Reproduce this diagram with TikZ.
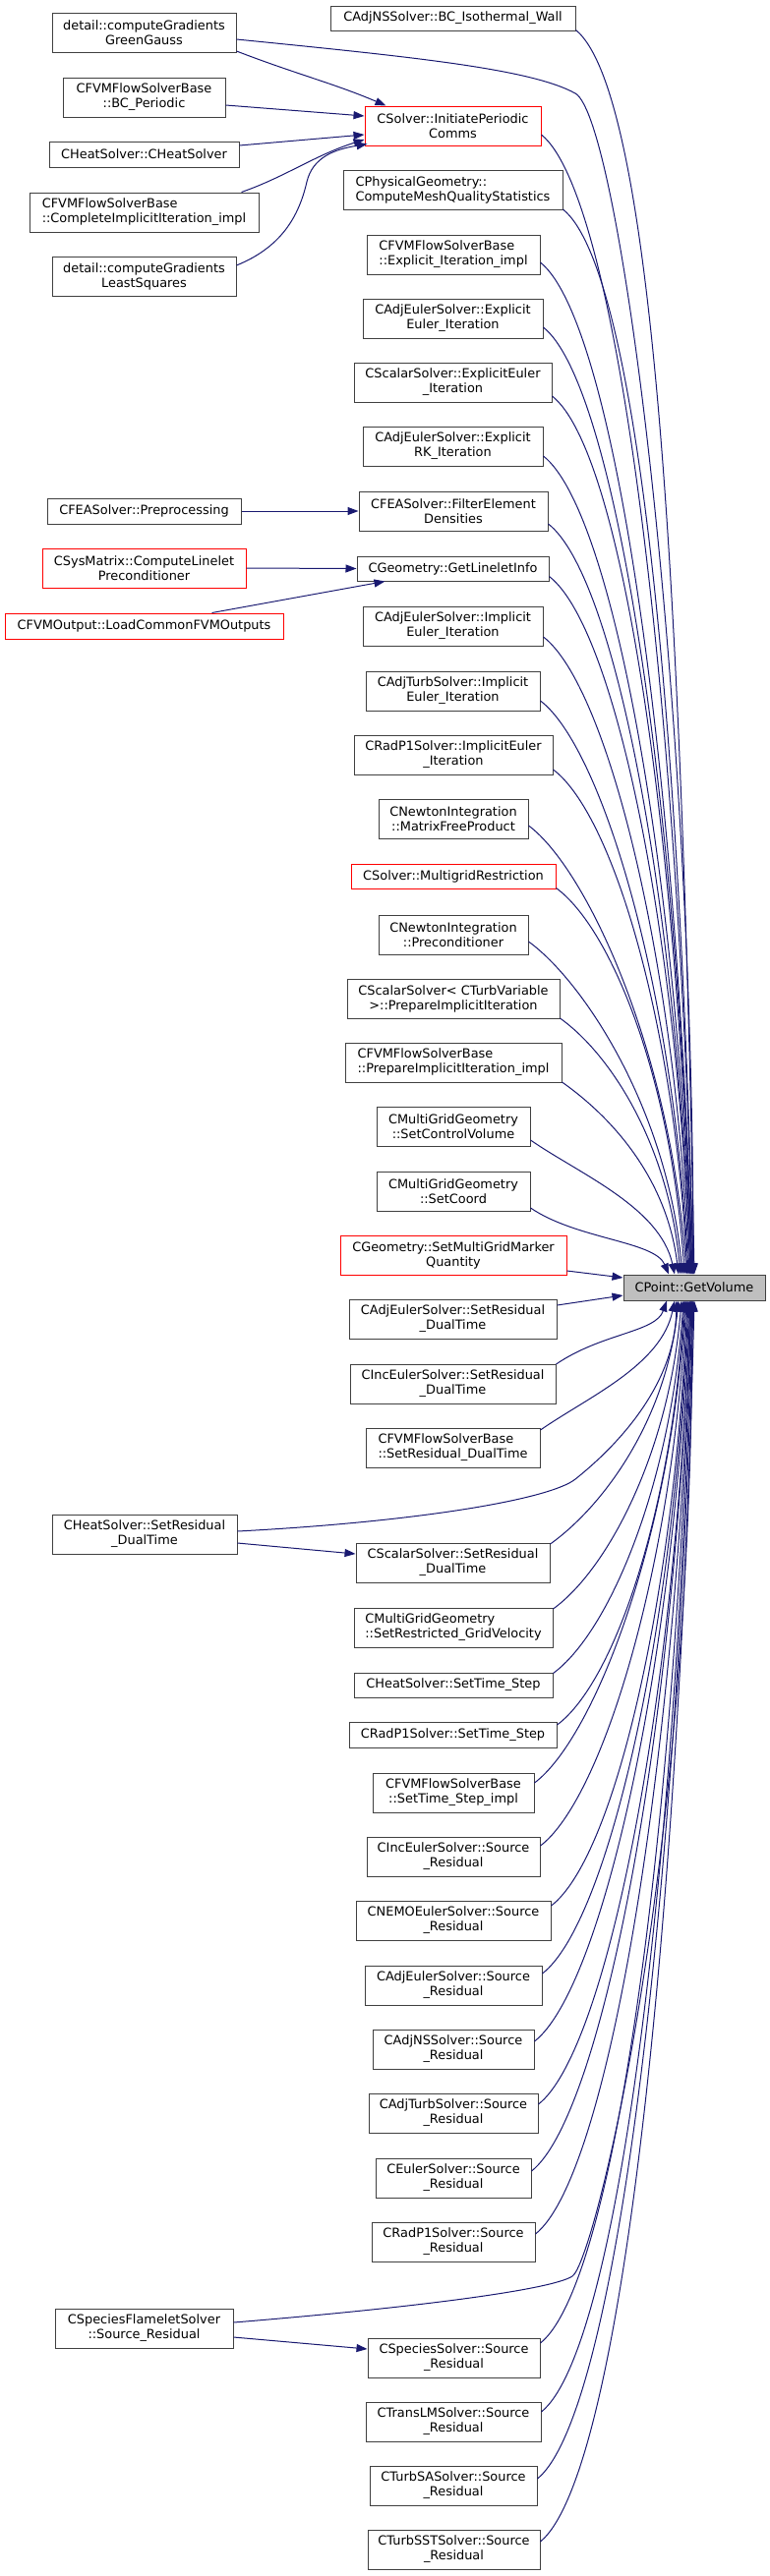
\documentclass[tikz,border=0pt]{standalone}
\usepackage{fontspec}
\setmainfont{DejaVu Sans}
\usetikzlibrary{arrows.meta,calc}
\definecolor{edgec}{HTML}{191970}
\definecolor{bord}{HTML}{404040}
\definecolor{cpfill}{HTML}{BFBFBF}
\tikzset{
  fn/.style={draw=bord, line width=1pt, fill=white, inner sep=0pt,
    minimum height=40pt, align=center, font=\fontsize{12.9}{15}\selectfont},
  fnl/.style={fn, align=left},
  one/.style={minimum height=26pt},
  redb/.style={draw=red},
  edge/.style={draw=edgec, line width=1pt, -{Triangle[length=11pt,width=8pt]}},
}
\newcommand\upedge[3]{%
  \draw[edge] let \p1=($(#1.east)+(0,#2)$), \p2=($(cp.north)+(#3,0)$) in
  (\p1) .. controls ({\x1+45pt+0.03*(\y1-\y2)},{\y1-30pt-0.03*(\y1-\y2)})
  and ({\x2-0.1*(\x2-\x1)},{0.5*(\y1+\y2)}) .. (\p2);}
\newcommand\downedge[3]{%
  \draw[edge] let \p1=($(#1.east)+(0,-#2)$), \p2=($(cp.south)+(#3,0)$) in
  (\p1) .. controls ({\x1+45pt+0.03*(\y2-\y1)},{\y1+30pt+0.03*(\y2-\y1)})
  and ({\x2-0.1*(\x2-\x1)},{0.5*(\y1+\y2)}) .. (\p2);}
\begin{document}
\begin{tikzpicture}[x=1pt,y=-1pt]
\useasboundingbox (0,0) rectangle (783,2621);
% left column
\node[fn, minimum width=187pt] (gg) at (146.5,33) {detail::computeGradients\\GreenGauss};
\node[fn, minimum width=165pt] (bcp) at (146.5,99) {CFVMFlowSolverBase\\::BC\_Periodic};
\node[fn, one, minimum width=193pt] (chs) at (146.5,157) {CHeatSolver::CHeatSolver};
\node[fnl, minimum width=233pt] (cii) at (146.5,216) {CFVMFlowSolverBase\\::CompleteImplicitIteration\_impl};
\node[fn, minimum width=187pt] (ls) at (146.5,281) {detail::computeGradients\\LeastSquares};
\node[fn, one, minimum width=197pt] (pre) at (146.5,520) {CFEASolver::Preprocessing};
\node[fn, redb, minimum width=207pt] (csm) at (146.5,578) {CSysMatrix::ComputeLinelet\\Preconditioner};
\node[fn, one, redb, minimum width=283pt] (lco) at (146.5,637) {CFVMOutput::LoadCommonFVMOutputs};
\node[fn, minimum width=188pt] (hsr) at (147,1561) {CHeatSolver::SetResidual\\\_DualTime};
\node[fn, minimum width=181pt] (sfl) at (146.5,2369) {CSpeciesFlameletSolver\\::Source\_Residual};
% right column
\node[fn, one, minimum width=249pt, minimum height=25pt] (bci) at (460.5,18.5) {CAdjNSSolver::BC\_Isothermal\_Wall};
\node[fn, redb, minimum width=179pt] (ipc) at (460.5,128) {CSolver::InitiatePeriodic\\Comms};
\node[fnl, minimum width=223pt] (cmq) at (460.5,193) {CPhysicalGeometry::\\ComputeMeshQualityStatistics};
\node[fnl, minimum width=176pt] (eii) at (461,259) {CFVMFlowSolverBase\\::Explicit\_Iteration\_impl};
\node[fn, minimum width=183pt] (aee) at (460.5,324) {CAdjEulerSolver::Explicit\\Euler\_Iteration};
\node[fn, minimum width=201pt] (see) at (460.5,389) {CScalarSolver::ExplicitEuler\\\_Iteration};
\node[fn, minimum width=183pt] (ark) at (460.5,454) {CAdjEulerSolver::Explicit\\RK\_Iteration};
\node[fn, minimum width=192pt] (fed) at (461,520) {CFEASolver::FilterElement\\Densities};
\node[fn, one, minimum width=195pt, minimum height=25pt] (gli) at (460.5,578.5) {CGeometry::GetLineletInfo};
\node[fn, minimum width=183pt] (aie) at (460.5,637) {CAdjEulerSolver::Implicit\\Euler\_Iteration};
\node[fn, minimum width=177pt] (ati) at (460.5,703) {CAdjTurbSolver::Implicit\\Euler\_Iteration};
\node[fn, minimum width=202pt] (rie) at (461,768) {CRadP1Solver::ImplicitEuler\\\_Iteration};
\node[fn, minimum width=152pt] (mfp) at (461,833) {CNewtonIntegration\\::MatrixFreeProduct};
\node[fn, one, redb, minimum width=208pt, minimum height=25pt] (mgr) at (461,891.5) {CSolver::MultigridRestriction};
\node[fn, minimum width=152pt] (npc) at (461,951) {CNewtonIntegration\\::Preconditioner};
\node[fn, minimum width=216pt] (spi) at (461,1016) {CScalarSolver< CTurbVariable\\ >::PrepareImplicitIteration};
\node[fnl, minimum width=220pt] (pii) at (461,1081) {CFVMFlowSolverBase\\::PrepareImplicitIteration\_impl};
\node[fn, minimum width=156pt] (scv) at (461,1146) {CMultiGridGeometry\\::SetControlVolume};
\node[fn, minimum width=156pt] (sco) at (461,1212) {CMultiGridGeometry\\::SetCoord};
\node[fn, redb, minimum width=230pt] (smg) at (461,1277) {CGeometry::SetMultiGridMarker\\Quantity};
\node[fn, one, fill=cpfill, minimum width=144pt] (cp) at (706,1310) {CPoint::GetVolume};
\node[fn, minimum width=211pt] (asr) at (460.5,1342) {CAdjEulerSolver::SetResidual\\\_DualTime};
\node[fn, minimum width=209pt] (isr) at (460.5,1408) {CIncEulerSolver::SetResidual\\\_DualTime};
\node[fnl, minimum width=177pt] (fsr) at (460.5,1473) {CFVMFlowSolverBase\\::SetResidual\_DualTime};
\node[fn, minimum width=197pt] (ssr) at (460.5,1590) {CScalarSolver::SetResidual\\\_DualTime};
\node[fnl, minimum width=202pt] (srg) at (461,1656) {CMultiGridGeometry\\::SetRestricted\_GridVelocity};
\node[fn, one, minimum width=202pt, minimum height=25pt] (hts) at (461,1714.5) {CHeatSolver::SetTime\_Step};
\node[fn, one, minimum width=211pt] (rts) at (460.5,1765) {CRadP1Solver::SetTime\_Step};
\node[fn, minimum width=164pt] (tsi) at (461,1824) {CFVMFlowSolverBase\\::SetTime\_Step\_impl};
\node[fn, minimum width=176pt] (ies) at (461,1889) {CIncEulerSolver::Source\\\_Residual};
\node[fn, minimum width=198pt] (nes) at (461,1954) {CNEMOEulerSolver::Source\\\_Residual};
\node[fn, minimum width=180pt] (aes) at (461,2020) {CAdjEulerSolver::Source\\\_Residual};
\node[fn, minimum width=164pt] (ans) at (461,2085) {CAdjNSSolver::Source\\\_Residual};
\node[fn, minimum width=172pt] (ats) at (461,2150) {CAdjTurbSolver::Source\\\_Residual};
\node[fn, minimum width=158pt] (ees) at (461,2216) {CEulerSolver::Source\\\_Residual};
\node[fn, minimum width=166pt] (rps) at (461,2281) {CRadP1Solver::Source\\\_Residual};
\node[fn, minimum width=175pt] (sps) at (461.5,2399) {CSpeciesSolver::Source\\\_Residual};
\node[fn, minimum width=178pt] (tls) at (461,2464) {CTransLMSolver::Source\\\_Residual};
\node[fn, minimum width=170pt] (tsa) at (461,2529) {CTurbSASolver::Source\\\_Residual};
\node[fn, minimum width=175pt] (tss) at (461.5,2594) {CTurbSSTSolver::Source\\\_Residual};
% left-side edges
\draw[edge] ($(gg.east)+(0,19)$) .. controls (300,75) and (340,85) .. ($(ipc.north west)+(22,0)$);
\draw[edge] ($(bcp.east)+(0,8)$) -- ($(ipc.west)+(0,-10)$);
\draw[edge] ($(chs.east)+(0,-9)$) -- ($(ipc.west)+(0,9)$);
\draw[edge] ($(cii.north east)+(-18,0)$) .. controls (290,180) and (320,158) .. ($(ipc.west)+(0,14)$);
\draw[edge] ($(ls.east)+(0,-11)$) .. controls (290,250) and (305,215) .. (312,185) .. controls (318,160) and (340,152) .. ($(ipc.south west)+(3,-2)$);
\draw[edge] (pre.east) -- (fed.west);
\draw[edge] (csm.east) -- (gli.west);
\draw[edge] ($(lco.north east)+(-73,0)$) -- ($(gli.south west)+(29,0)$);
\draw[edge] ($(hsr.east)+(0,9)$) -- ($(ssr.west)+(0,-9)$);
\draw[edge] ($(sfl.east)+(0,9)$) -- ($(sps.west)+(0,-9)$);
% long edges from left column
\draw[edge] ($(gg.east)+(0,7)$) .. controls (420,58) and (540,70) .. (585,95) .. controls (630,120) and (705,700) .. ($(cp.north)+(-1,0)$);
\draw[edge] ($(hsr.east)+(0,-3)$) .. controls (430,1548) and (560,1525) .. (585,1505) .. controls (610,1485) and (686,1420) .. ($(cp.south)+(-18,0)$);
\draw[edge] ($(sfl.east)+(0,-6)$) .. controls (420,2348) and (560,2330) .. (582,2316) .. controls (604,2302) and (704,1900) .. ($(cp.south)+(-2,0)$);
% edges into CPoint from above
\upedge{bci}{12}{0}
\upedge{ipc}{9}{-1}
\upedge{cmq}{20}{-1}
\upedge{eii}{8}{-2}
\upedge{aee}{9}{-2}
\upedge{see}{14}{-3}
\upedge{ark}{10}{-3}
\upedge{fed}{13}{-4}
\upedge{gli}{8}{-4}
\upedge{aie}{11}{-5}
\upedge{ati}{10}{-6}
\upedge{rie}{15}{-7}
\upedge{mfp}{7}{-8}
\upedge{mgr}{12}{-10}
\upedge{npc}{7}{-12}
\upedge{spi}{20}{-14}
\upedge{pii}{20}{-16}
\upedge{scv}{14}{-20}
\upedge{sco}{17}{-26}
\draw[edge] ($(smg.east)+(0,16)$) -- ($(cp.west)+(0,-10)$);
\draw[edge] ($(asr.east)+(0,-14)$) -- ($(cp.west)+(0,8)$);
% edges into CPoint from below
\downedge{isr}{20}{-28}
\downedge{fsr}{18}{-20}
\downedge{ssr}{19}{-16}
\downedge{srg}{19}{-13}
\downedge{hts}{12}{-11}
\downedge{rts}{10}{-10}
\downedge{tsi}{10}{-9}
\downedge{ies}{11}{-8}
\downedge{nes}{15}{-7}
\downedge{aes}{12}{-6}
\downedge{ans}{8}{-5}
\downedge{ats}{9}{-4}
\downedge{ees}{7}{-4}
\downedge{rps}{8}{-3}
\downedge{sps}{15}{-3}
\downedge{tls}{10}{-2}
\downedge{tsa}{7}{-1}
\downedge{tss}{8}{0}
\end{tikzpicture}
\end{document}
